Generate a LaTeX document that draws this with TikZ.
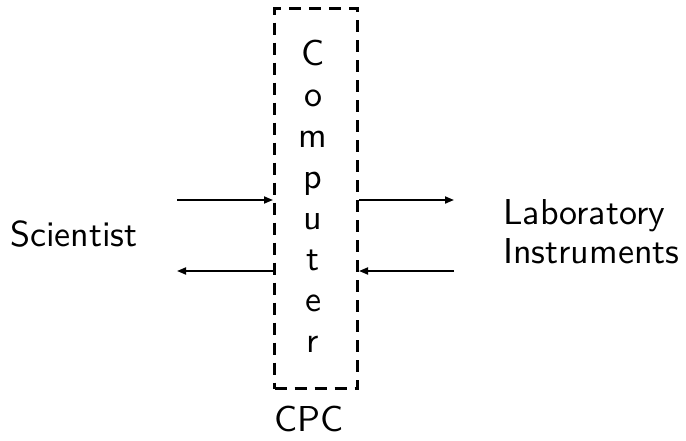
\documentclass[tikz,border=0pt]{standalone}
\usepackage{fontspec}
\usetikzlibrary{arrows.meta}
% Latin Modern Sans, 10pt design size, scaled up
\newfontfamily\labelfont{lmsans10-regular.otf}
\begin{document}
\begin{tikzpicture}[x=1pt,y=-1pt,
  lbl/.style={font=\labelfont\fontsize{36}{41}\selectfont, inner sep=0pt, anchor=base west},
  letter/.style={font=\labelfont\fontsize{36}{41}\selectfont, inner sep=0pt, anchor=base},
  frame/.style={draw, line width=3pt, dash pattern=on 12pt off 8pt, inner sep=0pt},
  link/.style={line width=1.8pt, -{Triangle[length=9pt,width=7pt]}}]
  \useasboundingbox (0,0) rectangle (686,440);

  % dashed frame of the central computer
  \node[frame, minimum width=83pt, minimum height=380pt] (cpc) at (316,198.5) {};

  % vertical label inside the frame
  \foreach \ch [count=\k from 0] in {C,o,m,p,u,t,e,r}
    \node[letter] (letter-\k) at (313,65+41*\k) {\ch};

  \node[letter] (cpclabel) at (309,431) {CPC};

  % outer parties
  \node[lbl] (scientist) at (10,246) {Scientist};
  \node[lbl] (lab1) at (503,224) {Laboratory};
  \node[lbl] (lab2) at (503,263) {Instruments};

  % free ends of the connectors
  \coordinate (sciout) at (177,200);
  \coordinate (sciin) at (177,271);
  \coordinate (labin) at (454,200);
  \coordinate (labout) at (454,271);

  \draw[link] (sciout) -- (cpc.west |- sciout);
  \draw[link] (cpc.west |- sciin) -- (sciin);
  \draw[link] (cpc.east |- labin) -- (labin);
  \draw[link] (labout) -- (cpc.east |- labout);
\end{tikzpicture}
\end{document}
